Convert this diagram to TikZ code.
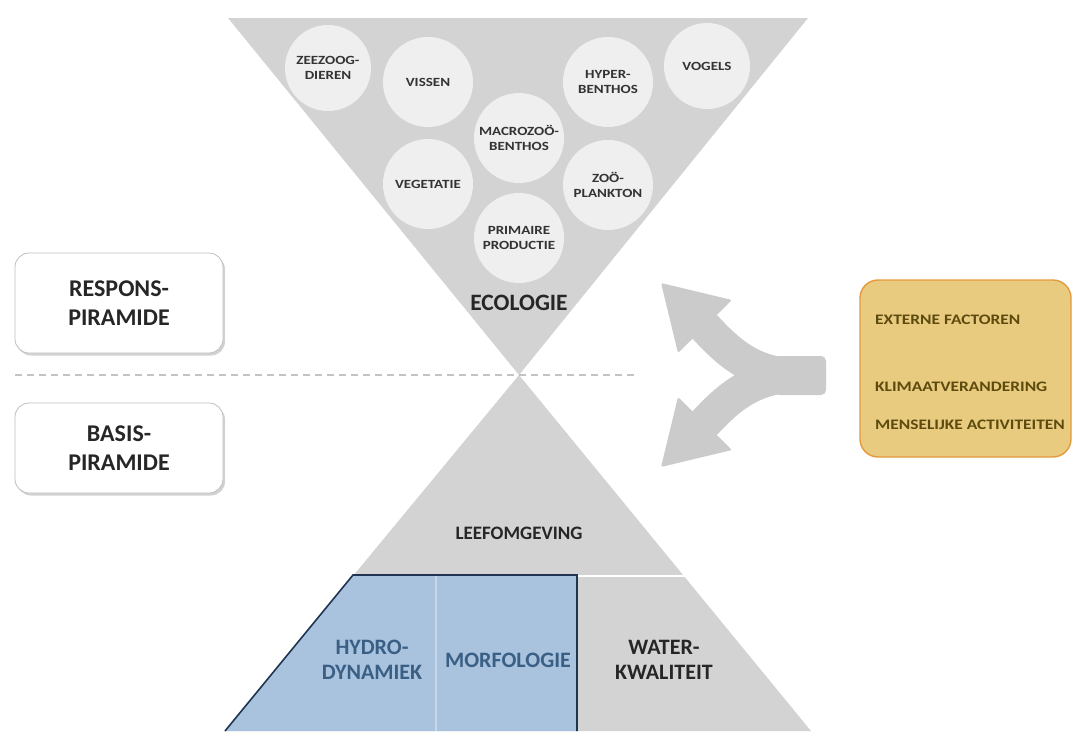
\documentclass[tikz,border=0pt]{standalone}
\usepackage{fontspec}
\setmainfont{Carlito}
\newfontfamily\widefont{Carlito}[FakeStretch=1.2]
\usetikzlibrary{shadows}
\definecolor{trigray}{HTML}{D3D3D3}
\definecolor{circgray}{HTML}{EFEFEF}
\definecolor{arrgray}{HTML}{CBCBCB}
\definecolor{bluefill}{HTML}{A9C2DD}
\definecolor{blueline}{HTML}{1F3552}
\definecolor{bluetext}{HTML}{3A5F85}
\definecolor{bluediv}{HTML}{C8D8EA}
\definecolor{yelfill}{HTML}{E8CB7E}
\definecolor{yelline}{HTML}{E39A3E}
\definecolor{yeltext}{HTML}{5C4A0E}
\definecolor{dashgray}{HTML}{C4C4C4}
\tikzset{
  bubble/.style={circle, fill=circgray, minimum size=90pt, inner sep=0pt, align=center,
    font=\widefont\fontsize{12.5}{15}\selectfont\bfseries, text=black!80},
  sidebox/.style={draw=black!25, line width=0.8pt, fill=white, rounded corners=14pt,
    minimum width=208pt, align=center, font=\fontsize{24}{29}\selectfont\bfseries, text=black!85,
    drop shadow={shadow xshift=2pt, shadow yshift=-2.5pt, fill=black!35}},
  biglabel/.style={align=center, font=\fontsize{22}{25}\selectfont\bfseries, text=black!85},
  bluelabel/.style={align=center, font=\fontsize{22}{25}\selectfont\bfseries, text=bluetext},
  yeltxt/.style={anchor=west, font=\widefont\fontsize{14.5}{16}\selectfont\bfseries, text=yeltext, inner sep=0pt},
}
\begin{document}
\begin{tikzpicture}[x=1pt,y=-1pt]
\useasboundingbox (0,0) rectangle (1073,731);
% top (inverted) triangle
\coordinate (tl) at (228,18);
\coordinate (tr) at (808,18);
\coordinate (apex) at (519,375);
\fill[trigray] (tl) -- (tr) -- (apex) -- cycle;
% bubbles
\node[bubble, minimum size=86pt] (zee) at (328,68) {ZEEZOOG-\\DIEREN};
\node[bubble] (vis) at (428,82) {VISSEN};
\node[bubble] (hyp) at (608,82) {HYPER-\\BENTHOS};
\node[bubble, minimum size=86pt] (vog) at (707,66) {VOGELS};
\node[bubble] (mac) at (519,138) {MACROZOÖ-\\BENTHOS};
\node[bubble] (veg) at (428,184) {VEGETATIE};
\node[bubble] (zoo) at (608,185) {ZOÖ-\\PLANKTON};
\node[bubble] (pri) at (519,238) {PRIMAIRE\\PRODUCTIE};
\node[biglabel, font=\fontsize{23.5}{26}\selectfont\bfseries] (eco) at (519,303) {ECOLOGIE};
% bottom triangle
\coordinate (bl) at (225,731);
\coordinate (br) at (811,731);
\fill[trigray] (apex) -- (br) -- (bl) -- cycle;
\coordinate (wl) at (350,576);
\coordinate (wr) at (688,576);
\draw[white, line width=2pt] (wl) -- (wr);
\node[biglabel, font=\fontsize{19}{22}\selectfont\bfseries] (lee) at (519,533) {LEEFOMGEVING};
% blue part
\coordinate (b1) at (353,575);
\coordinate (b2) at (577,575);
\coordinate (b3) at (577,731);
\coordinate (b4) at (225,731);
\fill[bluefill] (b1) -- (b2) -- (b3) -- (b4) -- cycle;
\coordinate (d1) at (436,576);
\coordinate (d2) at (436,731);
\draw[bluediv, line width=1.5pt] (d1) -- (d2);
\draw[blueline, line width=1.6pt, line join=miter] (b4) -- (b1) -- (b2) -- (b3);
\node[bluelabel] (hyd) at (372,660) {HYDRO-\\DYNAMIEK};
\node[bluelabel] (mor) at (508,660) {MORFOLOGIE};
\node[biglabel] (wat) at (664,660) {WATER-\\KWALITEIT};
% dashed separator
\coordinate (ds) at (15,375);
\coordinate (de) at (636,375);
\draw[dashgray, line width=1.6pt, dash pattern=on 7pt off 5pt] (ds) -- (de);
% side boxes
\node[sidebox, minimum height=100pt] (resp) at (119,303) {RESPONS-\\PIRAMIDE};
\node[sidebox, minimum height=90pt] (basis) at (119,448) {BASIS-\\PIRAMIDE};
% external factors box
\node[draw=yelline, fill=yelfill, line width=1.4pt, rounded corners=18pt,
      minimum width=211pt, minimum height=177pt] (ext) at (965.5,368.5) {};
\node[yeltxt] (t1) at (875,320) {EXTERNE FACTOREN};
\node[yeltxt] (t2) at (875,387) {KLIMAATVERANDERING};
\node[yeltxt] (t3) at (875,425) {MENSELIJKE ACTIVITEITEN};
% forked arrow
\coordinate (stemA) at (775,356);
\coordinate (stemB) at (826,395);
\fill[arrgray, rounded corners=5pt] (stemA) rectangle (stemB);
\coordinate (s0) at (800,375.5);
\coordinate (ub) at (703,325);
\coordinate (lb) at (703,425);
\draw[arrgray, line width=34pt] (s0) .. controls (752,375.5) and (728,352) .. (ub);
\draw[arrgray, line width=34pt] (s0) .. controls (752,375.5) and (728,398) .. (lb);
\coordinate (utip) at (661,283);
\coordinate (uw1) at (678,353);
\coordinate (uw2) at (732,300);
\fill[arrgray, rounded corners=2pt] (utip) -- (uw1) -- (uw2) -- cycle;
\coordinate (ltip) at (661,467);
\coordinate (lw1) at (678,397);
\coordinate (lw2) at (732,450);
\fill[arrgray, rounded corners=2pt] (ltip) -- (lw1) -- (lw2) -- cycle;
\end{tikzpicture}
\end{document}
